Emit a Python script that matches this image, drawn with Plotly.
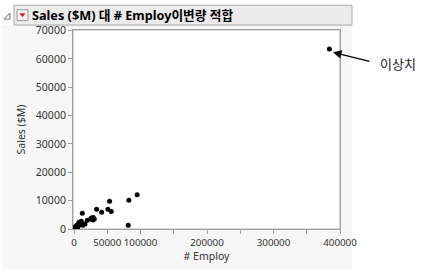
import plotly.graph_objects as go

employ = [95000, 82500, 81500, 53500, 51000, 56000, 41500, 34000, 29000, 30500,
          25000, 20000, 12500, 11000, 7500, 5000, 3500, 10000, 13500, 1500,
          6000, 16500, 26000, 28500, 384000]
sales = [12070, 10100, 1300, 9750, 7000, 6200, 5900, 7000, 4100, 3500,
         3500, 3100, 5600, 2700, 2350, 1500, 1150, 1500, 1300, 700,
         700, 1750, 3900, 3200, 63500]

x_tickvals = [0, 50000, 100000, 150000, 200000, 250000, 300000, 350000, 400000]
x_ticktext = ["0", "50000", "100000", "", "200000", "", "300000", "", "400000"]
y_tickvals = [0, 10000, 20000, 30000, 40000, 50000, 60000, 70000]
y_ticktext = ["0", "10000", "20000", "30000", "40000", "50000", "60000", "70000"]

title_text = "Sales ($M) 대 # Employ이변량 적합"
x_title = "# Employ"
y_title = "Sales ($M)"
outlier_label = "이상치"

L, R, T, B = 73, 340, 30, 231
W, H = 438, 272


def px(x):
    return (x - L) / (R - L)


def py(y):
    return (B - y) / (B - T)


font_fam = "Noto Sans, Noto Sans CJK KR, sans-serif"

fig = go.Figure()
fig.add_trace(go.Scatter(
    x=employ, y=sales, mode="markers",
    marker=dict(color="black", size=5),
    cliponaxis=False, hoverinfo="x+y", showlegend=False,
))

shapes = [
    dict(type="rect", xref="paper", yref="paper", x0=px(2), x1=px(352), y0=py(272), y1=py(25),
         fillcolor="#f7f7f7", line=dict(width=0), layer="below"),
    dict(type="rect", xref="paper", yref="paper", x0=0, x1=1, y0=0, y1=1,
         fillcolor="white", line=dict(color="#b0b0b0", width=1), layer="below"),
    dict(type="rect", xref="paper", yref="paper", x0=px(14), x1=px(352), y0=py(25), y1=py(5),
         fillcolor="#ebebeb", line=dict(color="#a8a8a8", width=1), layer="below"),
    dict(type="rect", xref="paper", yref="paper", x0=px(17), x1=px(28), y0=py(20.5), y1=py(9.5),
         fillcolor="#f4f4f4", line=dict(color="#9a9a9a", width=1), layer="above"),
    dict(type="path", xref="paper", yref="paper",
         path=f"M {px(19.5)} {py(13)} L {px(25.5)} {py(13)} L {px(22.5)} {py(17)} Z",
         fillcolor="#d42020", line=dict(width=0), layer="above"),
    dict(type="path", xref="paper", yref="paper",
         path=f"M {px(4)} {py(19)} L {px(10)} {py(19)} L {px(10)} {py(13)} Z",
         fillcolor="rgba(0,0,0,0)", line=dict(color="#707070", width=1), layer="above"),
]

annotations = [
    dict(text=f"<b>{title_text}</b>", xref="paper", yref="paper", x=px(30), y=py(15),
         xanchor="left", yanchor="middle", showarrow=False,
         font=dict(family=font_fam, size=12.7, color="black")),
    dict(text=outlier_label, xref="paper", yref="paper", x=px(378), y=py(64),
         xanchor="left", yanchor="middle", showarrow=False,
         font=dict(family="Noto Sans CJK KR, sans-serif", size=13, color="#222")),
    dict(text="", xref="paper", yref="paper", x=px(333), y=py(52.5),
         ax=38, ay=9.5, axref="pixel", ayref="pixel",
         showarrow=True, arrowhead=2, arrowsize=1.3, arrowwidth=1.3, arrowcolor="black"),
]

fig.update_layout(
    width=W, height=H,
    margin=dict(l=L, r=W - R, t=T, b=H - B, pad=0),
    paper_bgcolor="white", plot_bgcolor="white",
    shapes=shapes, annotations=annotations,
    font=dict(family=font_fam, size=10.5, color="#333"),
    xaxis=dict(
        range=[-1500, 400000], tickvals=x_tickvals, ticktext=x_ticktext, tickangle=0,
        ticks="outside", ticklen=4, tickcolor="#a0a0a0", showgrid=False, zeroline=False,
        showline=True, linecolor="#a0a0a0", mirror=True,
        title=dict(text=x_title, standoff=4, font=dict(size=10.5)),
        tickfont=dict(size=9.8, color="#333"),
    ),
    yaxis=dict(
        range=[0, 70200], tickvals=y_tickvals, ticktext=y_ticktext,
        ticks="outside", ticklen=4, tickcolor="#a0a0a0", showgrid=False, zeroline=False,
        showline=True, linecolor="#a0a0a0", mirror=True,
        title=dict(text=y_title, standoff=8, font=dict(size=10.5)),
        tickfont=dict(size=10.5, color="#333"),
    ),
)

fig.write_html("out.html")
